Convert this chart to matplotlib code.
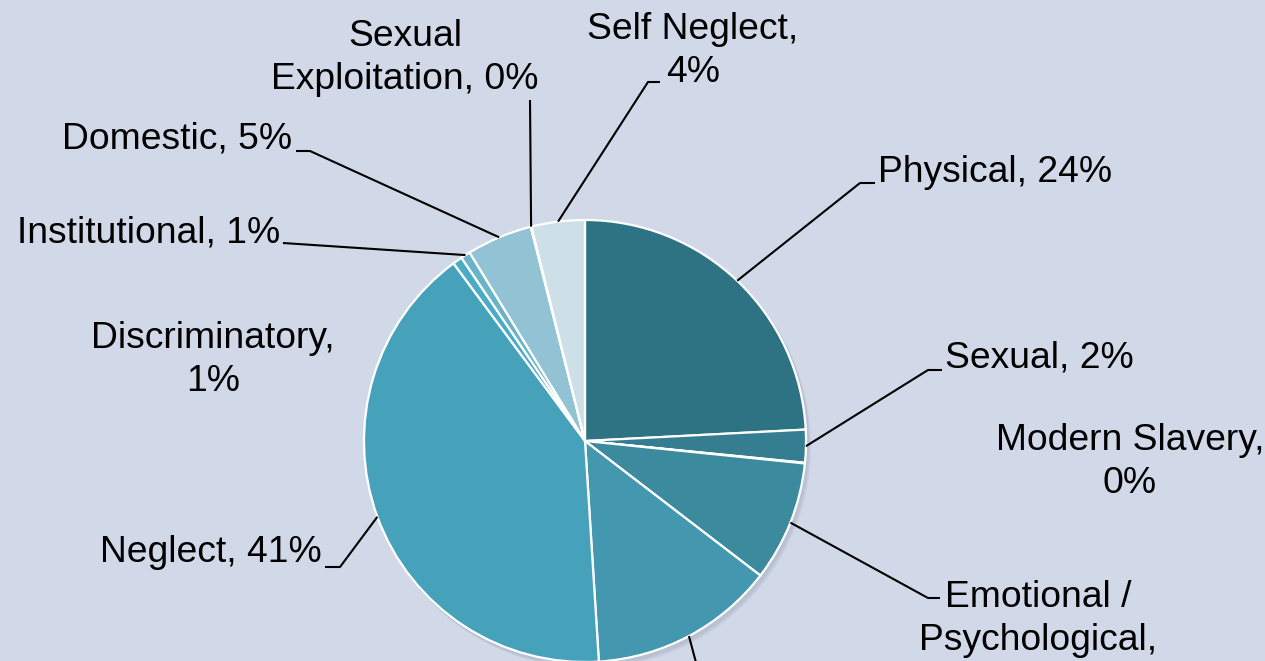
import numpy as np
import matplotlib
matplotlib.use("Agg")
import matplotlib.pyplot as plt
from matplotlib.patches import Circle

# ---- data ----
categories = ["Physical", "Sexual", "Modern Slavery", "Emotional /\nPsychological",
              "Financial or\nMaterial", "Neglect", "Discriminatory", "Institutional",
              "Domestic", "Sexual\nExploitation", "Self Neglect"]
shares = [24.2, 2.4, 0.05, 8.8, 13.6, 40.9, 0.7, 0.7, 4.8, 0.05, 3.9]
pct_labels = ["24%", "2%", "0%", "9%", "14%", "41%", "1%", "1%", "5%", "0%", "4%"]
colors = ["#2E7384", "#357E91", "#3A85A0", "#3B8A9E", "#4398AF", "#46A2BB",
          "#49ABC4", "#6AB4C8", "#92C3D4", "#B0D2DE", "#CDE0E8"]
# separator between name and percentage (", " on one line or ",\n" wrapped)
separators = [", ", ", ", ",\n", ",\n", ",\n", ", ", ",\n", ", ", ", ", ", ", ",\n"]

W, H = 1265, 661
BG = "#D1D8E8"
plt.rcParams['font.family'] = ['Liberation Sans', 'DejaVu Sans']

fig = plt.figure(figsize=(W / 100, H / 100), dpi=100, facecolor=BG)
ax = fig.add_axes([0, 0, 1, 1])
ax.set_facecolor(BG)

def Y(y):
    return H - y

cx, cy, R = 585, Y(441), 221

# soft shadow
for i, a in enumerate([0.10, 0.10, 0.10]):
    ax.add_patch(Circle((cx + 2 + i, cy - 3 - i), R + 1, color="#7d879a", alpha=a, zorder=1, lw=0))

wedges, _ = ax.pie(shares, colors=colors, startangle=90, counterclock=False,
                   center=(cx, cy), radius=R, frame=True,
                   wedgeprops=dict(edgecolor="white", linewidth=1.6, zorder=2))
ax.set_xlim(0, W)
ax.set_ylim(0, H)
ax.set_aspect('equal')
ax.axis('off')

FS = 26.8
LS = 1.27
# layout per label: (text x, text y [image px], ha, va, elbow points list or None)
layout = {
    0: (878, 172, 'left', 'center', [(860, 183), (875, 183)]),
    1: (945, 358, 'left', 'center', [(928, 370), (942, 370)]),
    2: (1130, 462, 'center', 'center', None),
    3: (1038, 640, 'center', 'center', [(928, 598), (940, 598)]),
    4: (760, 780, 'center', 'center', [(706, 700)]),
    5: (322, 553, 'right', 'center', [(340, 567), (325, 567)]),
    6: (213, 360, 'center', 'center', None),
    7: (280, 233, 'right', 'center', [(283, 243)]),
    8: (292, 139, 'right', 'center', [(310, 151), (296, 151)]),
    9: (405, 58, 'center', 'center', [(530, 100)]),
    10: (693, 51, 'center', 'center', [(648, 82), (660, 82)]),
}

for i, w in enumerate(wedges):
    label = categories[i] + separators[i] + pct_labels[i]
    tx, ty, ha, va, pts = layout[i]
    ax.text(tx, Y(ty), label, ha=ha, va=va, fontsize=FS, color="black",
            linespacing=LS, multialignment='center', zorder=5)
    if pts:
        mid = np.deg2rad((w.theta1 + w.theta2) / 2)
        ax0 = cx + R * np.cos(mid)
        ay0 = cy + R * np.sin(mid)
        xs = [ax0] + [p[0] for p in pts]
        ys = [ay0] + [Y(p[1]) for p in pts]
        ax.plot(xs, ys, color="black", lw=1.5, zorder=4, solid_capstyle='butt',
                clip_on=True)

fig.savefig("out.png", dpi=100, facecolor=BG)
